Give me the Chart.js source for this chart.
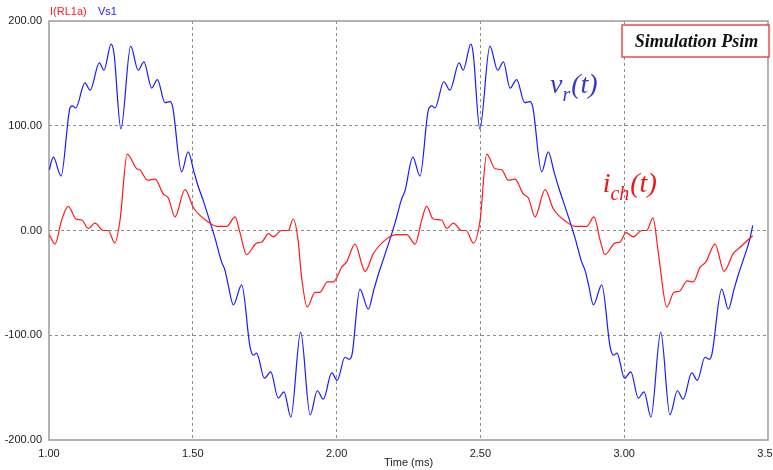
<!DOCTYPE html>
<html>
<head>
<meta charset="utf-8">
<script src="https://cdn.jsdelivr.net/npm/chart.js@4.4.1/dist/chart.umd.min.js"></script>
<style>
  html, body { margin: 0; padding: 0; background: #fff; overflow: hidden; }
  #wrap { width: 788px; height: 470px; }
</style>
</head>
<body>
<div id="wrap"><canvas id="c" width="788" height="470"></canvas></div>
<script>
// Time axis (ms) and tick values
const xTicks = [1.00, 1.50, 2.00, 2.50, 3.00, 3.50];
const yTicks = [-200, -100, 0, 100, 200];

// Vs1 : rectified-side voltage v_r(t)
const vsTime = [1.001, 1.015, 1.042, 1.073, 1.081, 1.093, 1.125, 1.143, 1.175, 1.191, 1.216, 1.226, 1.250,
  1.284, 1.310, 1.330, 1.357, 1.377, 1.403, 1.421, 1.430, 1.461, 1.484, 1.504, 1.519, 1.537, 1.560, 1.577,
  1.600, 1.612, 1.623, 1.641, 1.670, 1.699, 1.711, 1.722, 1.749, 1.771, 1.797, 1.817, 1.841, 1.875, 1.908,
  1.933, 1.954, 1.983, 2.002, 2.029, 2.044, 2.054, 2.081, 2.110, 2.130, 2.145, 2.162, 2.186, 2.203, 2.226,
  2.238, 2.265, 2.290, 2.319, 2.331, 2.342, 2.373, 2.394, 2.426, 2.440, 2.467, 2.475, 2.498, 2.533, 2.560,
  2.580, 2.603, 2.626, 2.654, 2.672, 2.682, 2.713, 2.736, 2.756, 2.771, 2.788, 2.812, 2.829, 2.852, 2.864,
  2.876, 2.893, 2.922, 2.951, 2.963, 2.975, 3.001, 3.023, 3.049, 3.069, 3.093, 3.127, 3.159, 3.185, 3.205,
  3.235, 3.254, 3.281, 3.296, 3.305, 3.339, 3.362, 3.382, 3.397, 3.414, 3.437, 3.447];
const vsValue = [58, 70, 52, 117, 119, 117, 141, 134, 160, 153, 178, 169, 97,
  176, 153, 161, 136, 144, 122, 123, 118, 56, 75, 56, 42, 28, 8, -7,
  -30, -38, -52, -71, -52, -111, -119, -117, -141, -135, -160, -154, -178, -97, -176,
  -153, -161, -136, -143, -121, -123, -118, -56, -75, -56, -42, -28, -8, 7, 30,
  38, 70, 52, 115, 119, 117, 142, 134, 160, 153, 178, 169, 97, 176, 153,
  161, 136, 144, 122, 123, 118, 56, 75, 56, 42, 28, 8, -7, -30, -38,
  -52, -71, -52, -111, -119, -117, -141, -135, -160, -154, -178, -97, -176, -153, -161,
  -136, -143, -121, -123, -118, -56, -75, -56, -42, -28, -8, 5];

// I(RL1a) : load current i_ch(t)
const ilTime = [1.001, 1.021, 1.044, 1.067, 1.094, 1.114, 1.137, 1.160, 1.189, 1.206, 1.229, 1.247, 1.272,
  1.305, 1.316, 1.342, 1.369, 1.397, 1.415, 1.438, 1.473, 1.502, 1.554, 1.583, 1.618, 1.647, 1.664, 1.687,
  1.722, 1.740, 1.763, 1.780, 1.809, 1.832, 1.849, 1.866, 1.878, 1.898, 1.925, 1.942, 1.968, 1.989, 2.018,
  2.035, 2.064, 2.099, 2.128, 2.174, 2.209, 2.244, 2.273, 2.296, 2.313, 2.336, 2.365, 2.383, 2.406, 2.435,
  2.450, 2.476, 2.499, 2.522, 2.551, 2.574, 2.597, 2.620, 2.649, 2.667, 2.690, 2.725, 2.753, 2.800, 2.829,
  2.870, 2.895, 2.916, 2.933, 2.968, 2.986, 3.006, 3.032, 3.061, 3.078, 3.100, 3.119, 3.148, 3.173, 3.192,
  3.219, 3.240, 3.264, 3.284, 3.316, 3.347, 3.379, 3.403, 3.426, 3.447];
const ilValue = [-4, -13, 10, 23, 11, 10, 2, 7, 0, 0, -12, 10, 73,
  59, 58, 48, 49, 35, 31, 13, 39, 22, 8, 4, 4, 13, -2, -23,
  -12, -11, -3, -6, 0, 0, 11, -9, -44, -73, -59, -59, -49, -49, -35,
  -30, -13, -39, -22, -8, -4, -4, -13, 10, 23, 11, 10, 2, 7, 0,
  0, -12, 10, 73, 59, 58, 48, 49, 35, 31, 13, 39, 21, 8, 4,
  4, 13, -9, -23, -12, -11, -2, -6, 0, 0, 12, -22, -73, -59, -58,
  -48, -49, -35, -30, -13, -39, -22, -16, -10, -5];

const seriesNames = ['I(RL1a)', 'Vs1'];
const RED = '#ff1a1a';
const BLUE = '#1a1aff';

const toPts = (xs, ys) => xs.map((x, i) => ({ x: x, y: ys[i] }));

// Frame, legend and the text annotations drawn on the canvas
const decor = {
  id: 'decor',
  beforeDatasetsDraw(chart) {
    const { ctx, chartArea: a } = chart;
    ctx.save();
    ctx.strokeStyle = '#9a9a9a';
    ctx.lineWidth = 1.5;
    ctx.strokeRect(a.left, a.top, a.right - a.left, a.bottom - a.top);
    ctx.restore();
  },
  afterDraw(chart) {
    const { ctx, chartArea: a } = chart;
    const xs = chart.scales.x, ys = chart.scales.y;
    ctx.save();
    // legend
    ctx.font = '11px "Liberation Sans", Arial, sans-serif';
    ctx.textBaseline = 'middle';
    ctx.textAlign = 'left';
    ctx.fillStyle = RED;
    ctx.fillText(seriesNames[0], a.left + 1, 12);
    ctx.fillStyle = BLUE;
    ctx.fillText(seriesNames[1], a.left + 49, 12);

    // "Simulation Psim" box
    const bw = 147, bh = 32;
    const bx = a.right - bw + 1, by = a.top + 4;
    ctx.fillStyle = '#ffffff';
    ctx.fillRect(bx, by, bw, bh);
    ctx.strokeStyle = 'rgba(235,40,40,0.85)';
    ctx.lineWidth = 1.5;
    ctx.strokeRect(bx, by, bw, bh);
    ctx.fillStyle = '#111';
    ctx.font = 'italic bold 18px "Liberation Serif", "Times New Roman", serif';
    ctx.textAlign = 'center';
    ctx.textBaseline = 'alphabetic';
    ctx.fillText('Simulation Psim', bx + bw / 2 + 1, by + 22);

    // curve labels with subscripts
    const label = (t, v, main, sub, tail, color) => {
      let px = xs.getPixelForValue(t), py = ys.getPixelForValue(v);
      ctx.fillStyle = color;
      ctx.textAlign = 'left';
      ctx.font = 'italic 28px "Liberation Serif", "Times New Roman", serif';
      ctx.fillText(main, px, py);
      px += ctx.measureText(main).width;
      ctx.font = 'italic 20px "Liberation Serif", "Times New Roman", serif';
      ctx.fillText(sub, px, py + 8);
      px += ctx.measureText(sub).width + 1;
      ctx.font = 'italic 28px "Liberation Serif", "Times New Roman", serif';
      ctx.fillText(tail, px, py);
    };
    label(2.742, 131, 'v', 'r', '(t)', '#3838c8');
    label(2.925, 37, 'i', 'ch', '(t)', '#ee1515');
    ctx.restore();
  }
};

const gridColor = (ctx) => {
  const v = ctx.tick && ctx.tick.value;
  const s = ctx.scale;
  if (v === s.min || v === s.max) return 'rgba(0,0,0,0)';
  return '#8c8c8c';
};

new Chart(document.getElementById('c'), {
  type: 'line',
  data: {
    datasets: [
      {
        label: seriesNames[0],
        data: toPts(ilTime, ilValue),
        borderColor: RED,
        borderWidth: 1.2,
        pointRadius: 0,
        cubicInterpolationMode: 'monotone',
        fill: false
      },
      {
        label: seriesNames[1],
        data: toPts(vsTime, vsValue),
        borderColor: BLUE,
        borderWidth: 1.2,
        pointRadius: 0,
        cubicInterpolationMode: 'monotone',
        fill: false
      }
    ]
  },
  options: {
    responsive: false,
    animation: false,
    events: [],
    layout: { padding: { left: 0, right: 20, top: 21, bottom: 0 } },
    plugins: { legend: { display: false }, tooltip: { enabled: false } },
    scales: {
      x: {
        type: 'linear',
        min: 1, max: 3.5,
        afterBuildTicks(scale) { scale.ticks = xTicks.map(v => ({ value: v })); },
        afterFit(scale) { scale.height = 30; },
        grid: { color: gridColor, lineWidth: 1, drawTicks: false },
        border: { display: false, dash: [3, 3] },
        ticks: {
          padding: 7,
          maxRotation: 0,
          color: '#222',
          font: { family: '"Liberation Sans", Arial, sans-serif', size: 11 },
          callback: (v) => Number(v).toFixed(2)
        },
        title: {
          display: true,
          text: 'Time (ms)',
          color: '#222',
          padding: { top: 0, bottom: 0 },
          font: { family: '"Liberation Sans", Arial, sans-serif', size: 11 }
        }
      },
      y: {
        min: -200, max: 200,
        afterBuildTicks(scale) { scale.ticks = yTicks.map(v => ({ value: v })); },
        afterFit(scale) { scale.width = 49; },
        grid: { color: gridColor, lineWidth: 1, drawTicks: false },
        border: { display: false, dash: [3, 3] },
        ticks: {
          padding: 7,
          color: '#222',
          font: { family: '"Liberation Sans", Arial, sans-serif', size: 11 },
          callback: (v) => Number(v).toFixed(2)
        }
      }
    }
  },
  plugins: [decor]
});
</script>
</body>
</html>
